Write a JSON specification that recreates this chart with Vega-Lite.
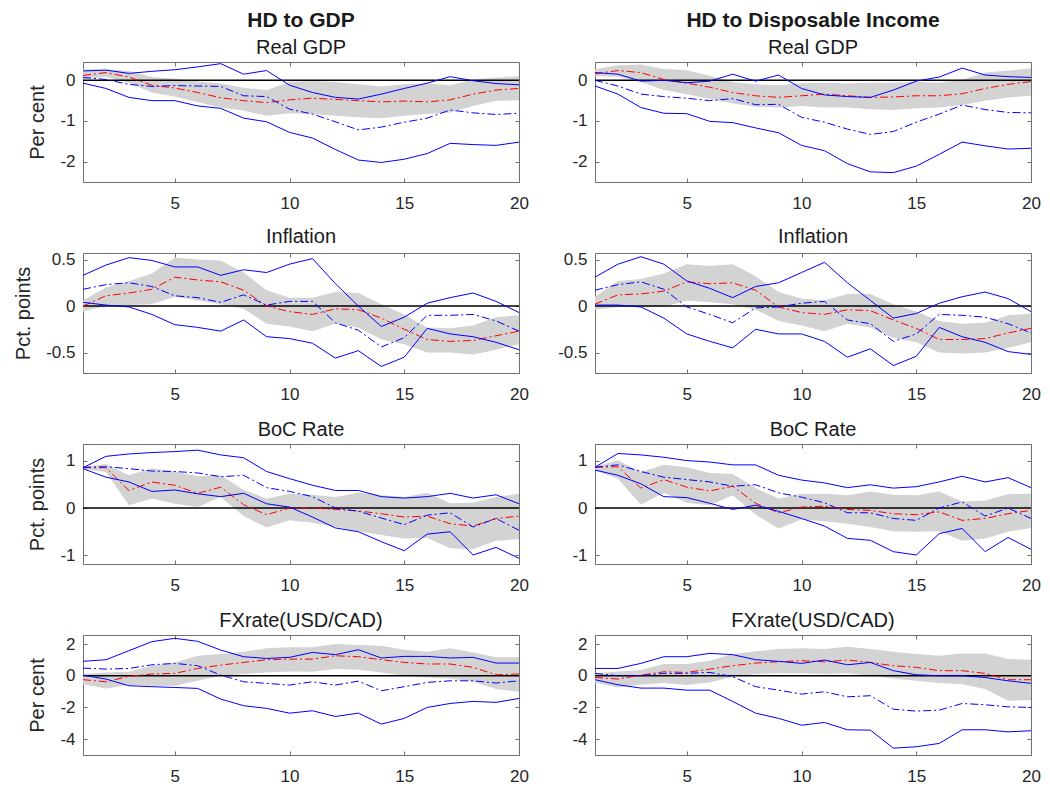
{
  "$schema": "https://vega.github.io/schema/vega-lite/v6.json",
  "padding": {"left": 13, "top": 9, "right": 5, "bottom": 5},
  "background": "white",
  "columns": 2,
  "spacing": {"row": 71, "column": 76},
  "bounds": "flush",
  "datasets": {
    "gdp_a": [
      {"t":1,"lo":0.02,"hi":0.27,"med":0.12,"alt":0.07,"up":0.23,"dn":-0.07},
      {"t":2,"lo":0.09,"hi":0.27,"med":0.19,"alt":0.02,"up":0.25,"dn":-0.20},
      {"t":3,"lo":-0.06,"hi":0.23,"med":0.08,"alt":-0.10,"up":0.17,"dn":-0.42},
      {"t":4,"lo":-0.30,"hi":0.08,"med":-0.12,"alt":-0.15,"up":0.22,"dn":-0.50},
      {"t":5,"lo":-0.40,"hi":0.04,"med":-0.19,"alt":-0.13,"up":0.26,"dn":-0.50},
      {"t":6,"lo":-0.54,"hi":-0.03,"med":-0.30,"alt":-0.14,"up":0.33,"dn":-0.63},
      {"t":7,"lo":-0.67,"hi":-0.08,"med":-0.43,"alt":-0.15,"up":0.41,"dn":-0.69},
      {"t":8,"lo":-0.75,"hi":-0.18,"med":-0.50,"alt":-0.38,"up":0.15,"dn":-0.93},
      {"t":9,"lo":-0.87,"hi":-0.24,"med":-0.55,"alt":-0.40,"up":0.24,"dn":-1.02},
      {"t":10,"lo":-0.81,"hi":-0.04,"med":-0.48,"alt":-0.71,"up":-0.12,"dn":-1.28},
      {"t":11,"lo":-0.83,"hi":-0.02,"med":-0.44,"alt":-0.83,"up":-0.30,"dn":-1.42},
      {"t":12,"lo":-0.87,"hi":-0.04,"med":-0.47,"alt":-1.02,"up":-0.42,"dn":-1.70},
      {"t":13,"lo":-0.91,"hi":-0.10,"med":-0.50,"alt":-1.22,"up":-0.46,"dn":-1.96},
      {"t":14,"lo":-0.93,"hi":-0.15,"med":-0.53,"alt":-1.15,"up":-0.34,"dn":-2.02},
      {"t":15,"lo":-0.87,"hi":-0.10,"med":-0.51,"alt":-1.03,"up":-0.20,"dn":-1.94},
      {"t":16,"lo":-0.83,"hi":-0.08,"med":-0.53,"alt":-0.93,"up":-0.07,"dn":-1.80},
      {"t":17,"lo":-0.79,"hi":-0.12,"med":-0.48,"alt":-0.73,"up":0.09,"dn":-1.55},
      {"t":18,"lo":-0.63,"hi":0.02,"med":-0.34,"alt":-0.80,"up":-0.01,"dn":-1.58},
      {"t":19,"lo":-0.50,"hi":0.07,"med":-0.24,"alt":-0.84,"up":-0.08,"dn":-1.60},
      {"t":20,"lo":-0.49,"hi":0.10,"med":-0.20,"alt":-0.81,"up":-0.11,"dn":-1.52}
    ],
    "gdp_b": [
      {"t":1,"lo":0.10,"hi":0.27,"med":0.16,"alt":0.00,"up":0.19,"dn":-0.14},
      {"t":2,"lo":0.09,"hi":0.37,"med":0.24,"alt":-0.14,"up":0.15,"dn":-0.34},
      {"t":3,"lo":-0.04,"hi":0.39,"med":0.19,"alt":-0.34,"up":-0.02,"dn":-0.67},
      {"t":4,"lo":-0.24,"hi":0.28,"med":0.02,"alt":-0.40,"up":0.00,"dn":-0.81},
      {"t":5,"lo":-0.34,"hi":0.25,"med":-0.07,"alt":-0.44,"up":-0.06,"dn":-0.82},
      {"t":6,"lo":-0.46,"hi":0.11,"med":-0.17,"alt":-0.50,"up":-0.02,"dn":-1.01},
      {"t":7,"lo":-0.57,"hi":-0.04,"med":-0.30,"alt":-0.45,"up":0.15,"dn":-1.04},
      {"t":8,"lo":-0.65,"hi":-0.10,"med":-0.38,"alt":-0.60,"up":-0.02,"dn":-1.17},
      {"t":9,"lo":-0.67,"hi":-0.12,"med":-0.42,"alt":-0.59,"up":0.13,"dn":-1.29},
      {"t":10,"lo":-0.63,"hi":-0.07,"med":-0.38,"alt":-0.91,"up":-0.20,"dn":-1.60},
      {"t":11,"lo":-0.67,"hi":-0.06,"med":-0.34,"alt":-1.03,"up":-0.36,"dn":-1.73},
      {"t":12,"lo":-0.67,"hi":-0.08,"med":-0.38,"alt":-1.20,"up":-0.40,"dn":-2.05},
      {"t":13,"lo":-0.71,"hi":-0.06,"med":-0.42,"alt":-1.33,"up":-0.42,"dn":-2.25},
      {"t":14,"lo":-0.73,"hi":-0.06,"med":-0.41,"alt":-1.26,"up":-0.24,"dn":-2.27},
      {"t":15,"lo":-0.69,"hi":-0.04,"med":-0.38,"alt":-1.03,"up":-0.02,"dn":-2.11},
      {"t":16,"lo":-0.67,"hi":-0.06,"med":-0.38,"alt":-0.83,"up":0.08,"dn":-1.82},
      {"t":17,"lo":-0.61,"hi":0.02,"med":-0.33,"alt":-0.61,"up":0.30,"dn":-1.52},
      {"t":18,"lo":-0.50,"hi":0.19,"med":-0.20,"alt":-0.72,"up":0.13,"dn":-1.61},
      {"t":19,"lo":-0.42,"hi":0.24,"med":-0.10,"alt":-0.79,"up":0.09,"dn":-1.69},
      {"t":20,"lo":-0.38,"hi":0.29,"med":-0.03,"alt":-0.80,"up":0.07,"dn":-1.67}
    ],
    "inf_a": [
      {"t":1,"lo":-0.06,"hi":0.06,"med":0.00,"alt":0.18,"up":0.33,"dn":0.04},
      {"t":2,"lo":0.00,"hi":0.20,"med":0.11,"alt":0.23,"up":0.44,"dn":0.01},
      {"t":3,"lo":0.01,"hi":0.27,"med":0.14,"alt":0.25,"up":0.52,"dn":-0.01},
      {"t":4,"lo":0.02,"hi":0.35,"med":0.18,"alt":0.21,"up":0.49,"dn":-0.09},
      {"t":5,"lo":0.10,"hi":0.52,"med":0.31,"alt":0.11,"up":0.42,"dn":-0.20},
      {"t":6,"lo":0.06,"hi":0.50,"med":0.28,"alt":0.09,"up":0.42,"dn":-0.23},
      {"t":7,"lo":0.02,"hi":0.49,"med":0.26,"alt":0.04,"up":0.33,"dn":-0.27},
      {"t":8,"lo":-0.03,"hi":0.36,"med":0.17,"alt":0.12,"up":0.39,"dn":-0.15},
      {"t":9,"lo":-0.19,"hi":0.17,"med":0.00,"alt":0.01,"up":0.36,"dn":-0.33},
      {"t":10,"lo":-0.22,"hi":0.09,"med":-0.06,"alt":0.05,"up":0.45,"dn":-0.35},
      {"t":11,"lo":-0.27,"hi":0.09,"med":-0.09,"alt":0.05,"up":0.51,"dn":-0.40},
      {"t":12,"lo":-0.19,"hi":0.15,"med":-0.03,"alt":-0.18,"up":0.24,"dn":-0.56},
      {"t":13,"lo":-0.23,"hi":0.14,"med":-0.04,"alt":-0.26,"up":0.00,"dn":-0.48},
      {"t":14,"lo":-0.36,"hi":0.02,"med":-0.13,"alt":-0.44,"up":-0.22,"dn":-0.65},
      {"t":15,"lo":-0.41,"hi":-0.09,"med":-0.25,"alt":-0.34,"up":-0.12,"dn":-0.55},
      {"t":16,"lo":-0.50,"hi":-0.23,"med":-0.36,"alt":-0.10,"up":0.03,"dn":-0.24},
      {"t":17,"lo":-0.50,"hi":-0.24,"med":-0.38,"alt":-0.10,"up":0.09,"dn":-0.30},
      {"t":18,"lo":-0.52,"hi":-0.21,"med":-0.37,"alt":-0.09,"up":0.14,"dn":-0.33},
      {"t":19,"lo":-0.47,"hi":-0.12,"med":-0.32,"alt":-0.16,"up":0.05,"dn":-0.39},
      {"t":20,"lo":-0.41,"hi":-0.10,"med":-0.27,"alt":-0.27,"up":-0.07,"dn":-0.47}
    ],
    "inf_b": [
      {"t":1,"lo":-0.04,"hi":0.10,"med":0.02,"alt":0.17,"up":0.31,"dn":0.01},
      {"t":2,"lo":-0.01,"hi":0.27,"med":0.12,"alt":0.23,"up":0.45,"dn":0.01},
      {"t":3,"lo":-0.01,"hi":0.29,"med":0.13,"alt":0.26,"up":0.53,"dn":-0.01},
      {"t":4,"lo":-0.01,"hi":0.35,"med":0.16,"alt":0.18,"up":0.45,"dn":-0.13},
      {"t":5,"lo":0.06,"hi":0.45,"med":0.26,"alt":-0.01,"up":0.27,"dn":-0.30},
      {"t":6,"lo":0.04,"hi":0.43,"med":0.24,"alt":-0.09,"up":0.19,"dn":-0.38},
      {"t":7,"lo":0.02,"hi":0.45,"med":0.25,"alt":-0.18,"up":0.09,"dn":-0.45},
      {"t":8,"lo":-0.04,"hi":0.32,"med":0.17,"alt":-0.02,"up":0.21,"dn":-0.25},
      {"t":9,"lo":-0.16,"hi":0.15,"med":-0.01,"alt":-0.01,"up":0.25,"dn":-0.30},
      {"t":10,"lo":-0.21,"hi":0.08,"med":-0.07,"alt":0.03,"up":0.36,"dn":-0.30},
      {"t":11,"lo":-0.27,"hi":0.06,"med":-0.09,"alt":0.05,"up":0.47,"dn":-0.38},
      {"t":12,"lo":-0.19,"hi":0.13,"med":-0.04,"alt":-0.15,"up":0.25,"dn":-0.55},
      {"t":13,"lo":-0.23,"hi":0.13,"med":-0.05,"alt":-0.19,"up":0.06,"dn":-0.46},
      {"t":14,"lo":-0.34,"hi":0.02,"med":-0.15,"alt":-0.38,"up":-0.13,"dn":-0.64},
      {"t":15,"lo":-0.39,"hi":-0.06,"med":-0.24,"alt":-0.30,"up":-0.08,"dn":-0.54},
      {"t":16,"lo":-0.50,"hi":-0.16,"med":-0.36,"alt":-0.09,"up":0.03,"dn":-0.23},
      {"t":17,"lo":-0.51,"hi":-0.19,"med":-0.36,"alt":-0.10,"up":0.10,"dn":-0.33},
      {"t":18,"lo":-0.50,"hi":-0.18,"med":-0.35,"alt":-0.12,"up":0.15,"dn":-0.39},
      {"t":19,"lo":-0.45,"hi":-0.10,"med":-0.29,"alt":-0.19,"up":0.08,"dn":-0.49},
      {"t":20,"lo":-0.39,"hi":-0.08,"med":-0.24,"alt":-0.29,"up":-0.06,"dn":-0.52}
    ],
    "boc_a": [
      {"t":1,"lo":0.83,"hi":0.86,"med":0.85,"alt":0.86,"up":0.85,"dn":0.83},
      {"t":2,"lo":0.76,"hi":0.93,"med":0.85,"alt":0.87,"up":1.09,"dn":0.65},
      {"t":3,"lo":0.06,"hi":0.69,"med":0.37,"alt":0.83,"up":1.14,"dn":0.55},
      {"t":4,"lo":0.20,"hi":0.84,"med":0.55,"alt":0.78,"up":1.17,"dn":0.35},
      {"t":5,"lo":0.09,"hi":0.77,"med":0.48,"alt":0.77,"up":1.19,"dn":0.38},
      {"t":6,"lo":0.02,"hi":0.67,"med":0.31,"alt":0.74,"up":1.22,"dn":0.30},
      {"t":7,"lo":0.23,"hi":0.69,"med":0.44,"alt":0.66,"up":1.12,"dn":0.24},
      {"t":8,"lo":-0.17,"hi":0.38,"med":0.07,"alt":0.69,"up":1.06,"dn":0.31},
      {"t":9,"lo":-0.41,"hi":0.20,"med":-0.14,"alt":0.43,"up":0.77,"dn":0.09},
      {"t":10,"lo":-0.26,"hi":0.30,"med":0.00,"alt":0.35,"up":0.62,"dn":0.02},
      {"t":11,"lo":-0.31,"hi":0.28,"med":0.00,"alt":0.24,"up":0.48,"dn":-0.19},
      {"t":12,"lo":-0.40,"hi":0.23,"med":-0.03,"alt":0.00,"up":0.37,"dn":-0.42},
      {"t":13,"lo":-0.49,"hi":0.32,"med":-0.06,"alt":-0.07,"up":0.37,"dn":-0.50},
      {"t":14,"lo":-0.57,"hi":0.27,"med":-0.12,"alt":-0.21,"up":0.24,"dn":-0.71},
      {"t":15,"lo":-0.64,"hi":0.23,"med":-0.19,"alt":-0.35,"up":0.21,"dn":-0.90},
      {"t":16,"lo":-0.63,"hi":0.32,"med":-0.17,"alt":-0.15,"up":0.24,"dn":-0.55},
      {"t":17,"lo":-0.85,"hi":0.10,"med":-0.33,"alt":-0.10,"up":0.31,"dn":-0.50},
      {"t":18,"lo":-0.87,"hi":0.11,"med":-0.38,"alt":-0.40,"up":0.21,"dn":-0.99},
      {"t":19,"lo":-0.69,"hi":0.23,"med":-0.22,"alt":-0.22,"up":0.28,"dn":-0.83},
      {"t":20,"lo":-0.66,"hi":0.30,"med":-0.17,"alt":-0.47,"up":0.09,"dn":-1.06}
    ],
    "boc_b": [
      {"t":1,"lo":0.79,"hi":0.87,"med":0.86,"alt":0.86,"up":0.86,"dn":0.80},
      {"t":2,"lo":0.62,"hi":1.01,"med":0.87,"alt":0.91,"up":1.15,"dn":0.69},
      {"t":3,"lo":0.07,"hi":0.76,"med":0.42,"alt":0.77,"up":1.12,"dn":0.51},
      {"t":4,"lo":0.32,"hi":0.91,"med":0.60,"alt":0.65,"up":1.07,"dn":0.24},
      {"t":5,"lo":0.11,"hi":0.86,"med":0.44,"alt":0.60,"up":1.00,"dn":0.22},
      {"t":6,"lo":0.06,"hi":0.74,"med":0.36,"alt":0.55,"up":0.97,"dn":0.10},
      {"t":7,"lo":0.27,"hi":0.72,"med":0.46,"alt":0.46,"up":0.91,"dn":-0.03},
      {"t":8,"lo":-0.14,"hi":0.42,"med":0.10,"alt":0.49,"up":0.91,"dn":0.06},
      {"t":9,"lo":-0.43,"hi":0.20,"med":-0.10,"alt":0.32,"up":0.69,"dn":-0.07},
      {"t":10,"lo":-0.24,"hi":0.30,"med":0.02,"alt":0.23,"up":0.59,"dn":-0.22},
      {"t":11,"lo":-0.28,"hi":0.30,"med":0.04,"alt":0.11,"up":0.53,"dn":-0.38},
      {"t":12,"lo":-0.33,"hi":0.27,"med":-0.03,"alt":-0.10,"up":0.43,"dn":-0.64},
      {"t":13,"lo":-0.40,"hi":0.35,"med":-0.05,"alt":-0.10,"up":0.49,"dn":-0.68},
      {"t":14,"lo":-0.49,"hi":0.28,"med":-0.12,"alt":-0.22,"up":0.42,"dn":-0.92},
      {"t":15,"lo":-0.50,"hi":0.27,"med":-0.14,"alt":-0.26,"up":0.45,"dn":-0.99},
      {"t":16,"lo":-0.49,"hi":0.35,"med":-0.08,"alt":0.00,"up":0.55,"dn":-0.54},
      {"t":17,"lo":-0.69,"hi":0.14,"med":-0.26,"alt":0.13,"up":0.67,"dn":-0.43},
      {"t":18,"lo":-0.64,"hi":0.16,"med":-0.22,"alt":-0.17,"up":0.55,"dn":-0.92},
      {"t":19,"lo":-0.50,"hi":0.29,"med":-0.12,"alt":0.00,"up":0.64,"dn":-0.62},
      {"t":20,"lo":-0.42,"hi":0.30,"med":-0.05,"alt":-0.22,"up":0.43,"dn":-0.87}
    ],
    "fx_a": [
      {"t":1,"lo":-0.53,"hi":0.11,"med":-0.25,"alt":0.48,"up":0.91,"dn":0.04},
      {"t":2,"lo":-0.80,"hi":0.21,"med":-0.38,"alt":0.42,"up":1.01,"dn":-0.21},
      {"t":3,"lo":-0.59,"hi":0.25,"med":-0.04,"alt":0.46,"up":1.58,"dn":-0.63},
      {"t":4,"lo":-0.63,"hi":0.63,"med":0.11,"alt":0.69,"up":2.15,"dn":-0.69},
      {"t":5,"lo":-0.63,"hi":0.84,"med":0.15,"alt":0.78,"up":2.36,"dn":-0.74},
      {"t":6,"lo":-0.32,"hi":1.26,"med":0.46,"alt":0.63,"up":2.17,"dn":-0.80},
      {"t":7,"lo":0.00,"hi":1.37,"med":0.67,"alt":0.04,"up":1.62,"dn":-1.47},
      {"t":8,"lo":0.11,"hi":1.52,"med":0.84,"alt":-0.38,"up":1.20,"dn":-1.89},
      {"t":9,"lo":0.21,"hi":1.73,"med":1.01,"alt":-0.48,"up":1.09,"dn":-2.06},
      {"t":10,"lo":0.27,"hi":1.79,"med":1.05,"alt":-0.59,"up":1.16,"dn":-2.36},
      {"t":11,"lo":0.25,"hi":1.79,"med":1.05,"alt":-0.38,"up":1.47,"dn":-2.21},
      {"t":12,"lo":0.42,"hi":2.00,"med":1.26,"alt":-0.59,"up":1.33,"dn":-2.57},
      {"t":13,"lo":0.38,"hi":1.94,"med":1.20,"alt":-0.34,"up":1.64,"dn":-2.36},
      {"t":14,"lo":0.21,"hi":1.89,"med":1.01,"alt":-0.95,"up":1.12,"dn":-3.05},
      {"t":15,"lo":0.00,"hi":1.64,"med":0.84,"alt":-0.69,"up":1.22,"dn":-2.69},
      {"t":16,"lo":-0.11,"hi":1.52,"med":0.74,"alt":-0.42,"up":1.22,"dn":-2.00},
      {"t":17,"lo":-0.17,"hi":1.73,"med":0.74,"alt":-0.32,"up":1.12,"dn":-1.75},
      {"t":18,"lo":-0.38,"hi":1.47,"med":0.53,"alt":-0.32,"up":1.16,"dn":-1.62},
      {"t":19,"lo":-0.84,"hi":1.16,"med":0.06,"alt":-0.46,"up":0.80,"dn":-1.68},
      {"t":20,"lo":-1.01,"hi":1.16,"med":0.11,"alt":-0.32,"up":0.80,"dn":-1.43}
    ],
    "fx_b": [
      {"t":1,"lo":-0.42,"hi":0.15,"med":-0.11,"alt":0.15,"up":0.46,"dn":-0.25},
      {"t":2,"lo":-0.74,"hi":0.27,"med":-0.21,"alt":0.00,"up":0.46,"dn":-0.57},
      {"t":3,"lo":-0.57,"hi":0.36,"med":0.04,"alt":0.00,"up":0.78,"dn":-0.78},
      {"t":4,"lo":-0.46,"hi":0.74,"med":0.25,"alt":0.15,"up":1.20,"dn":-0.78},
      {"t":5,"lo":-0.59,"hi":0.74,"med":0.21,"alt":0.15,"up":1.20,"dn":-0.91},
      {"t":6,"lo":-0.42,"hi":0.95,"med":0.42,"alt":0.21,"up":1.41,"dn":-0.91},
      {"t":7,"lo":-0.06,"hi":1.37,"med":0.63,"alt":-0.06,"up":1.33,"dn":-1.62},
      {"t":8,"lo":0.11,"hi":1.54,"med":0.80,"alt":-0.69,"up":1.01,"dn":-2.36},
      {"t":9,"lo":0.15,"hi":1.68,"med":0.88,"alt":-0.91,"up":0.91,"dn":-2.69},
      {"t":10,"lo":0.15,"hi":1.73,"med":0.95,"alt":-1.16,"up":0.78,"dn":-3.12},
      {"t":11,"lo":0.11,"hi":1.68,"med":0.88,"alt":-1.01,"up":0.99,"dn":-2.95},
      {"t":12,"lo":0.15,"hi":1.83,"med":0.99,"alt":-1.33,"up":0.69,"dn":-3.41},
      {"t":13,"lo":0.00,"hi":1.68,"med":0.84,"alt":-1.26,"up":0.84,"dn":-3.43},
      {"t":14,"lo":-0.17,"hi":1.52,"med":0.63,"alt":-2.11,"up":0.32,"dn":-4.57},
      {"t":15,"lo":-0.32,"hi":1.37,"med":0.53,"alt":-2.23,"up":0.06,"dn":-4.48},
      {"t":16,"lo":-0.46,"hi":1.26,"med":0.32,"alt":-2.17,"up":0.00,"dn":-4.27},
      {"t":17,"lo":-0.53,"hi":1.41,"med":0.32,"alt":-1.75,"up":0.00,"dn":-3.41},
      {"t":18,"lo":-0.84,"hi":1.41,"med":0.15,"alt":-1.83,"up":-0.11,"dn":-3.41},
      {"t":19,"lo":-1.58,"hi":1.05,"med":-0.25,"alt":-1.96,"up":-0.32,"dn":-3.54},
      {"t":20,"lo":-1.54,"hi":1.01,"med":-0.25,"alt":-2.00,"up":-0.48,"dn":-3.47}
    ]
  },
  "concat": [
    {
      "data": {"name": "gdp_a"}, "width": 436, "height": 120,
      "title": {"text": "HD to GDP", "subtitle": "Real GDP", "fontWeight": "bold", "fontSize": 21},
      "resolve": {"axis": {"x": "independent", "y": "independent"}},
      "encoding": {"x": {"field": "t", "type": "quantitative", "title": null, "scale": {"domain": [1, 20], "nice": false}, "axis": null}},
      "layer": [
        {"mark": {"type": "area", "color": "#d3d3d3"}, "encoding": {
          "x": {"field": "t", "type": "quantitative", "title": null, "scale": {"domain": [1, 20], "nice": false}, "axis": {"values": [5, 10, 15, 20], "labelFlush": false, "labelPadding": 17}},
          "y": {"field": "hi", "type": "quantitative", "title": "Per cent", "scale": {"domain": [-2.5, 0.45], "nice": false, "zero": false}, "axis": {"values": [-2, -1, 0], "tickCount": 10}},
          "y2": {"field": "lo"}}},
        {"mark": {"type": "line", "color": "#000000", "strokeWidth": 1.4}, "encoding": {
          "x": {"field": "t", "type": "quantitative", "title": null, "axis": {"orient": "top", "values": [5, 10, 15, 20], "labels": false, "domain": false}},
          "y": {"datum": 0, "type": "quantitative", "title": null, "axis": {"orient": "right", "values": [-2, -1, 0], "tickCount": 10, "labels": false, "domain": false}}}},
        {"mark": {"type": "line", "color": "#ff0000", "strokeDash": [8, 3, 2, 3]}, "encoding": {"y": {"field": "med", "type": "quantitative", "axis": null}}},
        {"mark": {"type": "line", "color": "#0000ff", "strokeDash": [8, 3, 2, 3]}, "encoding": {"y": {"field": "alt", "type": "quantitative", "axis": null}}},
        {"mark": {"type": "line", "color": "#0000ff"}, "encoding": {"y": {"field": "up", "type": "quantitative", "axis": null}}},
        {"mark": {"type": "line", "color": "#0000ff"}, "encoding": {"y": {"field": "dn", "type": "quantitative", "axis": null}}}
      ]
    },
    {
      "data": {"name": "gdp_b"}, "width": 436, "height": 120,
      "title": {"text": "HD to Disposable Income", "subtitle": "Real GDP", "fontWeight": "bold", "fontSize": 21},
      "resolve": {"axis": {"x": "independent", "y": "independent"}},
      "encoding": {"x": {"field": "t", "type": "quantitative", "title": null, "scale": {"domain": [1, 20], "nice": false}, "axis": null}},
      "layer": [
        {"mark": {"type": "area", "color": "#d3d3d3"}, "encoding": {
          "x": {"field": "t", "type": "quantitative", "title": null, "scale": {"domain": [1, 20], "nice": false}, "axis": {"values": [5, 10, 15, 20], "labelFlush": false, "labelPadding": 17}},
          "y": {"field": "hi", "type": "quantitative", "title": null, "scale": {"domain": [-2.5, 0.45], "nice": false, "zero": false}, "axis": {"values": [-2, -1, 0], "tickCount": 10}},
          "y2": {"field": "lo"}}},
        {"mark": {"type": "line", "color": "#000000", "strokeWidth": 1.4}, "encoding": {
          "x": {"field": "t", "type": "quantitative", "title": null, "axis": {"orient": "top", "values": [5, 10, 15, 20], "labels": false, "domain": false}},
          "y": {"datum": 0, "type": "quantitative", "title": null, "axis": {"orient": "right", "values": [-2, -1, 0], "tickCount": 10, "labels": false, "domain": false}}}},
        {"mark": {"type": "line", "color": "#ff0000", "strokeDash": [8, 3, 2, 3]}, "encoding": {"y": {"field": "med", "type": "quantitative", "axis": null}}},
        {"mark": {"type": "line", "color": "#0000ff", "strokeDash": [8, 3, 2, 3]}, "encoding": {"y": {"field": "alt", "type": "quantitative", "axis": null}}},
        {"mark": {"type": "line", "color": "#0000ff"}, "encoding": {"y": {"field": "up", "type": "quantitative", "axis": null}}},
        {"mark": {"type": "line", "color": "#0000ff"}, "encoding": {"y": {"field": "dn", "type": "quantitative", "axis": null}}}
      ]
    },
    {
      "data": {"name": "inf_a"}, "width": 436, "height": 120,
      "title": "Inflation",
      "resolve": {"axis": {"x": "independent", "y": "independent"}},
      "encoding": {"x": {"field": "t", "type": "quantitative", "title": null, "scale": {"domain": [1, 20], "nice": false}, "axis": null}},
      "layer": [
        {"mark": {"type": "area", "color": "#d3d3d3"}, "encoding": {
          "x": {"field": "t", "type": "quantitative", "title": null, "scale": {"domain": [1, 20], "nice": false}, "axis": {"values": [5, 10, 15, 20], "labelFlush": false, "labelPadding": 17}},
          "y": {"field": "hi", "type": "quantitative", "title": "Pct. points", "scale": {"domain": [-0.72, 0.57], "nice": false, "zero": false}, "axis": {"values": [-0.5, 0, 0.5], "tickCount": 10}},
          "y2": {"field": "lo"}}},
        {"mark": {"type": "line", "color": "#000000", "strokeWidth": 1.4}, "encoding": {
          "x": {"field": "t", "type": "quantitative", "title": null, "axis": {"orient": "top", "values": [5, 10, 15, 20], "labels": false, "domain": false}},
          "y": {"datum": 0, "type": "quantitative", "title": null, "axis": {"orient": "right", "values": [-0.5, 0, 0.5], "tickCount": 10, "labels": false, "domain": false}}}},
        {"mark": {"type": "line", "color": "#ff0000", "strokeDash": [8, 3, 2, 3]}, "encoding": {"y": {"field": "med", "type": "quantitative", "axis": null}}},
        {"mark": {"type": "line", "color": "#0000ff", "strokeDash": [8, 3, 2, 3]}, "encoding": {"y": {"field": "alt", "type": "quantitative", "axis": null}}},
        {"mark": {"type": "line", "color": "#0000ff"}, "encoding": {"y": {"field": "up", "type": "quantitative", "axis": null}}},
        {"mark": {"type": "line", "color": "#0000ff"}, "encoding": {"y": {"field": "dn", "type": "quantitative", "axis": null}}}
      ]
    },
    {
      "data": {"name": "inf_b"}, "width": 436, "height": 120,
      "title": "Inflation",
      "resolve": {"axis": {"x": "independent", "y": "independent"}},
      "encoding": {"x": {"field": "t", "type": "quantitative", "title": null, "scale": {"domain": [1, 20], "nice": false}, "axis": null}},
      "layer": [
        {"mark": {"type": "area", "color": "#d3d3d3"}, "encoding": {
          "x": {"field": "t", "type": "quantitative", "title": null, "scale": {"domain": [1, 20], "nice": false}, "axis": {"values": [5, 10, 15, 20], "labelFlush": false, "labelPadding": 17}},
          "y": {"field": "hi", "type": "quantitative", "title": null, "scale": {"domain": [-0.72, 0.57], "nice": false, "zero": false}, "axis": {"values": [-0.5, 0, 0.5], "tickCount": 10}},
          "y2": {"field": "lo"}}},
        {"mark": {"type": "line", "color": "#000000", "strokeWidth": 1.4}, "encoding": {
          "x": {"field": "t", "type": "quantitative", "title": null, "axis": {"orient": "top", "values": [5, 10, 15, 20], "labels": false, "domain": false}},
          "y": {"datum": 0, "type": "quantitative", "title": null, "axis": {"orient": "right", "values": [-0.5, 0, 0.5], "tickCount": 10, "labels": false, "domain": false}}}},
        {"mark": {"type": "line", "color": "#ff0000", "strokeDash": [8, 3, 2, 3]}, "encoding": {"y": {"field": "med", "type": "quantitative", "axis": null}}},
        {"mark": {"type": "line", "color": "#0000ff", "strokeDash": [8, 3, 2, 3]}, "encoding": {"y": {"field": "alt", "type": "quantitative", "axis": null}}},
        {"mark": {"type": "line", "color": "#0000ff"}, "encoding": {"y": {"field": "up", "type": "quantitative", "axis": null}}},
        {"mark": {"type": "line", "color": "#0000ff"}, "encoding": {"y": {"field": "dn", "type": "quantitative", "axis": null}}}
      ]
    },
    {
      "data": {"name": "boc_a"}, "width": 436, "height": 120,
      "title": "BoC Rate",
      "resolve": {"axis": {"x": "independent", "y": "independent"}},
      "encoding": {"x": {"field": "t", "type": "quantitative", "title": null, "scale": {"domain": [1, 20], "nice": false}, "axis": null}},
      "layer": [
        {"mark": {"type": "area", "color": "#d3d3d3"}, "encoding": {
          "x": {"field": "t", "type": "quantitative", "title": null, "scale": {"domain": [1, 20], "nice": false}, "axis": {"values": [5, 10, 15, 20], "labelFlush": false, "labelPadding": 17}},
          "y": {"field": "hi", "type": "quantitative", "title": "Pct. points", "scale": {"domain": [-1.18, 1.35], "nice": false, "zero": false}, "axis": {"values": [-1, 0, 1], "tickCount": 10}},
          "y2": {"field": "lo"}}},
        {"mark": {"type": "line", "color": "#000000", "strokeWidth": 1.4}, "encoding": {
          "x": {"field": "t", "type": "quantitative", "title": null, "axis": {"orient": "top", "values": [5, 10, 15, 20], "labels": false, "domain": false}},
          "y": {"datum": 0, "type": "quantitative", "title": null, "axis": {"orient": "right", "values": [-1, 0, 1], "tickCount": 10, "labels": false, "domain": false}}}},
        {"mark": {"type": "line", "color": "#ff0000", "strokeDash": [8, 3, 2, 3]}, "encoding": {"y": {"field": "med", "type": "quantitative", "axis": null}}},
        {"mark": {"type": "line", "color": "#0000ff", "strokeDash": [8, 3, 2, 3]}, "encoding": {"y": {"field": "alt", "type": "quantitative", "axis": null}}},
        {"mark": {"type": "line", "color": "#0000ff"}, "encoding": {"y": {"field": "up", "type": "quantitative", "axis": null}}},
        {"mark": {"type": "line", "color": "#0000ff"}, "encoding": {"y": {"field": "dn", "type": "quantitative", "axis": null}}}
      ]
    },
    {
      "data": {"name": "boc_b"}, "width": 436, "height": 120,
      "title": "BoC Rate",
      "resolve": {"axis": {"x": "independent", "y": "independent"}},
      "encoding": {"x": {"field": "t", "type": "quantitative", "title": null, "scale": {"domain": [1, 20], "nice": false}, "axis": null}},
      "layer": [
        {"mark": {"type": "area", "color": "#d3d3d3"}, "encoding": {
          "x": {"field": "t", "type": "quantitative", "title": null, "scale": {"domain": [1, 20], "nice": false}, "axis": {"values": [5, 10, 15, 20], "labelFlush": false, "labelPadding": 17}},
          "y": {"field": "hi", "type": "quantitative", "title": null, "scale": {"domain": [-1.18, 1.35], "nice": false, "zero": false}, "axis": {"values": [-1, 0, 1], "tickCount": 10}},
          "y2": {"field": "lo"}}},
        {"mark": {"type": "line", "color": "#000000", "strokeWidth": 1.4}, "encoding": {
          "x": {"field": "t", "type": "quantitative", "title": null, "axis": {"orient": "top", "values": [5, 10, 15, 20], "labels": false, "domain": false}},
          "y": {"datum": 0, "type": "quantitative", "title": null, "axis": {"orient": "right", "values": [-1, 0, 1], "tickCount": 10, "labels": false, "domain": false}}}},
        {"mark": {"type": "line", "color": "#ff0000", "strokeDash": [8, 3, 2, 3]}, "encoding": {"y": {"field": "med", "type": "quantitative", "axis": null}}},
        {"mark": {"type": "line", "color": "#0000ff", "strokeDash": [8, 3, 2, 3]}, "encoding": {"y": {"field": "alt", "type": "quantitative", "axis": null}}},
        {"mark": {"type": "line", "color": "#0000ff"}, "encoding": {"y": {"field": "up", "type": "quantitative", "axis": null}}},
        {"mark": {"type": "line", "color": "#0000ff"}, "encoding": {"y": {"field": "dn", "type": "quantitative", "axis": null}}}
      ]
    },
    {
      "data": {"name": "fx_a"}, "width": 436, "height": 120,
      "title": "FXrate(USD/CAD)",
      "resolve": {"axis": {"x": "independent", "y": "independent"}},
      "encoding": {"x": {"field": "t", "type": "quantitative", "title": null, "scale": {"domain": [1, 20], "nice": false}, "axis": null}},
      "layer": [
        {"mark": {"type": "area", "color": "#d3d3d3"}, "encoding": {
          "x": {"field": "t", "type": "quantitative", "title": null, "scale": {"domain": [1, 20], "nice": false}, "axis": {"values": [5, 10, 15, 20], "labelFlush": false, "labelPadding": 17}},
          "y": {"field": "hi", "type": "quantitative", "title": "Per cent", "scale": {"domain": [-5, 2.57], "nice": false, "zero": false}, "axis": {"values": [-4, -2, 0, 2], "tickCount": 10}},
          "y2": {"field": "lo"}}},
        {"mark": {"type": "line", "color": "#000000", "strokeWidth": 1.4}, "encoding": {
          "x": {"field": "t", "type": "quantitative", "title": null, "axis": {"orient": "top", "values": [5, 10, 15, 20], "labels": false, "domain": false}},
          "y": {"datum": 0, "type": "quantitative", "title": null, "axis": {"orient": "right", "values": [-4, -2, 0, 2], "tickCount": 10, "labels": false, "domain": false}}}},
        {"mark": {"type": "line", "color": "#ff0000", "strokeDash": [8, 3, 2, 3]}, "encoding": {"y": {"field": "med", "type": "quantitative", "axis": null}}},
        {"mark": {"type": "line", "color": "#0000ff", "strokeDash": [8, 3, 2, 3]}, "encoding": {"y": {"field": "alt", "type": "quantitative", "axis": null}}},
        {"mark": {"type": "line", "color": "#0000ff"}, "encoding": {"y": {"field": "up", "type": "quantitative", "axis": null}}},
        {"mark": {"type": "line", "color": "#0000ff"}, "encoding": {"y": {"field": "dn", "type": "quantitative", "axis": null}}}
      ]
    },
    {
      "data": {"name": "fx_b"}, "width": 436, "height": 120,
      "title": "FXrate(USD/CAD)",
      "resolve": {"axis": {"x": "independent", "y": "independent"}},
      "encoding": {"x": {"field": "t", "type": "quantitative", "title": null, "scale": {"domain": [1, 20], "nice": false}, "axis": null}},
      "layer": [
        {"mark": {"type": "area", "color": "#d3d3d3"}, "encoding": {
          "x": {"field": "t", "type": "quantitative", "title": null, "scale": {"domain": [1, 20], "nice": false}, "axis": {"values": [5, 10, 15, 20], "labelFlush": false, "labelPadding": 17}},
          "y": {"field": "hi", "type": "quantitative", "title": null, "scale": {"domain": [-5, 2.57], "nice": false, "zero": false}, "axis": {"values": [-4, -2, 0, 2], "tickCount": 10}},
          "y2": {"field": "lo"}}},
        {"mark": {"type": "line", "color": "#000000", "strokeWidth": 1.4}, "encoding": {
          "x": {"field": "t", "type": "quantitative", "title": null, "axis": {"orient": "top", "values": [5, 10, 15, 20], "labels": false, "domain": false}},
          "y": {"datum": 0, "type": "quantitative", "title": null, "axis": {"orient": "right", "values": [-4, -2, 0, 2], "tickCount": 10, "labels": false, "domain": false}}}},
        {"mark": {"type": "line", "color": "#ff0000", "strokeDash": [8, 3, 2, 3]}, "encoding": {"y": {"field": "med", "type": "quantitative", "axis": null}}},
        {"mark": {"type": "line", "color": "#0000ff", "strokeDash": [8, 3, 2, 3]}, "encoding": {"y": {"field": "alt", "type": "quantitative", "axis": null}}},
        {"mark": {"type": "line", "color": "#0000ff"}, "encoding": {"y": {"field": "up", "type": "quantitative", "axis": null}}},
        {"mark": {"type": "line", "color": "#0000ff"}, "encoding": {"y": {"field": "dn", "type": "quantitative", "axis": null}}}
      ]
    }
  ],
  "config": {
    "font": "Liberation Sans",
    "view": {"stroke": "#707070", "strokeWidth": 1},
    "axis": {
      "grid": false,
      "domainColor": "#707070",
      "tickColor": "#707070",
      "tickSize": -4,
      "labelPadding": 12,
      "labelOverlap": false,
      "labelFontSize": 17,
      "labelColor": "#262626",
      "labelExpr": "'' + datum.value",
      "titleFontSize": 20,
      "titleFontWeight": "normal",
      "titleColor": "#262626",
      "titlePadding": 12
    },
    "title": {
      "fontSize": 20,
      "fontWeight": "normal",
      "color": "#1a1a1a",
      "offset": 4,
      "subtitleFontSize": 20,
      "subtitleColor": "#1a1a1a",
      "subtitlePadding": 7
    },
    "line": {"strokeWidth": 1}
  }
}
